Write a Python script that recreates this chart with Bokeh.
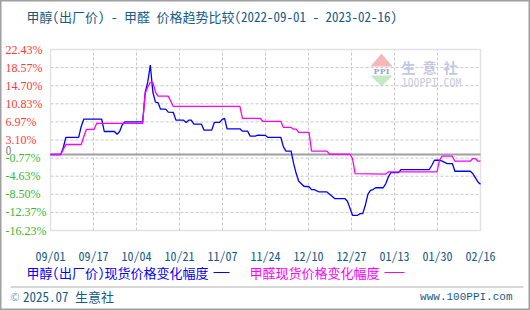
import numpy as np
import pandas as pd
from bokeh.plotting import figure
from bokeh.models import (FixedTicker, LinearAxis, Label, LabelSet, Range1d,
                          ColumnDataSource, BoxAnnotation)
from bokeh.embed import file_html
from bokeh.resources import INLINE

# ---------------- data ----------------
start_date = "2022-09-01"
end_date = "2023-02-16"

x_tick_labels = ["09/01", "09/17", "10/04", "10/21", "11/07", "11/24",
                 "12/10", "12/27", "01/13", "01/30", "02/16"]
y_tick_values = [22.43, 18.57, 14.70, 10.83, 6.97, 3.10, -0.77, -4.63,
                 -8.50, -12.37, -16.23]

methanol_dates = [
    "2022-09-01", "2022-09-05", "2022-09-06", "2022-09-07", "2022-09-12",
    "2022-09-13", "2022-09-14", "2022-09-21", "2022-09-22", "2022-09-26",
    "2022-09-27", "2022-09-28", "2022-09-29", "2022-09-30", "2022-10-07",
    "2022-10-08", "2022-10-09", "2022-10-10", "2022-10-11", "2022-10-12",
    "2022-10-13", "2022-10-14", "2022-10-16", "2022-10-17", "2022-10-19",
    "2022-10-20", "2022-10-23", "2022-10-24", "2022-10-25", "2022-10-26",
    "2022-10-27", "2022-10-30", "2022-10-31", "2022-11-03", "2022-11-04",
    "2022-11-06", "2022-11-07", "2022-11-08", "2022-11-09", "2022-11-14",
    "2022-11-15", "2022-11-17", "2022-11-18", "2022-11-20", "2022-11-21",
    "2022-11-24", "2022-11-25", "2022-11-30", "2022-12-01", "2022-12-02",
    "2022-12-04", "2022-12-05", "2022-12-06", "2022-12-07", "2022-12-09",
    "2022-12-11", "2022-12-12", "2022-12-13", "2022-12-15", "2022-12-18",
    "2022-12-20", "2022-12-21", "2022-12-25", "2022-12-26", "2022-12-28",
    "2022-12-30", "2022-12-31", "2023-01-01", "2023-01-02", "2023-01-03",
    "2023-01-04", "2023-01-05", "2023-01-06", "2023-01-09", "2023-01-10",
    "2023-01-11", "2023-01-12", "2023-01-15", "2023-01-16", "2023-01-27",
    "2023-01-28", "2023-01-29", "2023-01-31", "2023-02-01", "2023-02-03",
    "2023-02-05", "2023-02-06", "2023-02-12", "2023-02-13", "2023-02-15",
    "2023-02-16"]
methanol_change = [
    0.00, 0.00, 1.50, 3.64, 3.64,
    6.00, 7.55, 7.55, 4.92, 4.92,
    4.34, 4.90, 6.30, 6.97, 6.97,
    13.26, 15.50, 19.10, 13.30, 11.20,
    11.10, 9.69, 9.69, 9.05, 8.99,
    7.34, 7.34, 6.85, 7.34, 7.34,
    6.48, 6.48, 5.20, 5.20, 6.85,
    6.85, 7.45, 7.70, 5.48, 5.48,
    4.99, 4.99, 3.92, 3.92, 4.13,
    4.07, 3.64, 3.64, 1.63, 0.71,
    0.71, -1.93, -4.07, -5.71, -6.78,
    -6.89, -7.49, -7.49, -8.00, -8.00,
    -8.92, -9.41, -9.41, -9.99, -12.99,
    -12.99, -12.62, -12.62, -10.85, -8.50,
    -7.64, -7.49, -7.10, -7.10, -6.20,
    -4.79, -3.85, -3.85, -3.21, -3.21,
    -2.29, -1.22, -1.22, -1.43, -1.93,
    -1.93, -3.57, -3.57, -4.07, -5.86,
    -6.35]

formaldehyde_dates = [
    "2022-09-01", "2022-09-05", "2022-09-06", "2022-09-07", "2022-09-13",
    "2022-09-14", "2022-09-15", "2022-09-18", "2022-09-19", "2022-10-07",
    "2022-10-08", "2022-10-09", "2022-10-10", "2022-10-11", "2022-10-12",
    "2022-10-13", "2022-10-17", "2022-10-19", "2022-11-14", "2022-11-15",
    "2022-11-22", "2022-11-23", "2022-11-30", "2022-12-01", "2022-12-04",
    "2022-12-05", "2022-12-06", "2022-12-07", "2022-12-11", "2022-12-12",
    "2022-12-18", "2022-12-19", "2022-12-27", "2022-12-28", "2022-12-29",
    "2023-01-10", "2023-01-11", "2023-01-30", "2023-01-31", "2023-02-01",
    "2023-02-05", "2023-02-06", "2023-02-12", "2023-02-13", "2023-02-14",
    "2023-02-15", "2023-02-16"]
formaldehyde_change = [
    0.00, 0.00, 1.07, 2.14, 2.14,
    3.80, 5.35, 5.35, 6.63, 6.63,
    13.05, 14.46, 15.40, 15.40, 13.39,
    12.47, 12.47, 10.27, 10.27, 7.70,
    7.70, 7.06, 7.06, 5.78, 5.78,
    5.41, 5.41, 4.71, 4.71, 0.71,
    0.71, 0.06, 0.06, -0.86, -4.07,
    -4.17, -3.72, -3.72, -1.22, -0.36,
    -0.36, -1.43, -1.43, -0.86, -0.86,
    -1.43, -1.43]

title_text = "甲醇(出厂价) - 甲醛 价格趋势比较(2022-09-01 - 2023-02-16)"
legend_methanol = "甲醇(出厂价)现货价格变化幅度"
legend_formaldehyde = "甲醛现货价格变化幅度"

# ---------------- derived ----------------
t0 = pd.Timestamp(start_date)
span_days = (pd.Timestamp(end_date) - t0).days
m_x = [(pd.Timestamp(d) - t0).days for d in methanol_dates]
f_x = [(pd.Timestamp(d) - t0).days for d in formaldehyde_dates]
x_ticks = [span_days * i / (len(x_tick_labels) - 1) for i in range(len(x_tick_labels))]

# ---------------- layout: chart box inside the canvas ----------------
W, H = 530, 310
FL, FR, FT, FB = 50, 480, 49, 230
X0, X1 = 0, span_days
Y0, Y1 = min(y_tick_values), max(y_tick_values)


def px2x(px):
    return X0 + (px - FL) / (FR - FL) * (X1 - X0)


def py2y(py):
    return Y0 + (FB - py) / (FB - FT) * (Y1 - Y0)


MONO = "Noto Sans Mono CJK SC, Noto Sans CJK SC, DejaVu Sans Mono"
DARK = "#155b85"
GRID = "#c8c8c8"
FRAME = "#a0a0a0"

p = figure(width=W, height=H, output_backend="svg", toolbar_location=None,
           x_range=Range1d(px2x(0), px2x(W)), y_range=Range1d(py2y(H), py2y(0)),
           x_axis_location=None, y_axis_location=None,
           min_border_left=0, min_border_right=0, min_border_top=0, min_border_bottom=0)
p.background_fill_color = "white"
p.border_fill_color = "white"
p.outline_line_color = FRAME
p.outline_line_width = 2
p.xgrid.visible = False
p.ygrid.visible = False

# x axis fixed at the bottom of the chart box
xaxis = LinearAxis(fixed_location=Y0, ticker=FixedTicker(ticks=x_ticks))
xaxis.major_label_overrides = {t: lab for t, lab in zip(x_ticks, x_tick_labels)}
xaxis.axis_line_color = None
xaxis.major_tick_line_color = None
xaxis.minor_tick_line_color = None
xaxis.major_label_standoff = 10
xaxis.major_label_text_font = MONO
xaxis.major_label_text_font_size = "12px"
xaxis.major_label_text_color = DARK
p.add_layout(xaxis, "below")

# watermark
wm_x = [px2x(370), px2x(381), px2x(392)]
p.patch(wm_x, [py2y(66), py2y(53), py2y(66)], fill_color="#f4b8b8", line_color=None)
p.patch(wm_x, [py2y(75), py2y(86), py2y(75)], fill_color="#c4eac4", line_color=None)
p.add_layout(Label(x=px2x(381), y=py2y(70.5), text="PPI", text_align="center",
                   text_baseline="middle", text_font="DejaVu Serif",
                   text_font_size="8px", text_font_style="bold", text_color="#9aa6cc"))
p.add_layout(Label(x=px2x(401), y=py2y(66), text="生 意 社", text_baseline="middle",
                   text_font=MONO, text_font_size="14px", text_font_style="bold",
                   text_color="#c3c8e0"))
p.add_layout(Label(x=px2x(401), y=py2y(80.5), text="100PPI.COM", text_baseline="middle",
                   text_font=MONO, text_font_size="12px", text_color="#c8ccdc"))

# grid lines (dashed) at the tick positions
inner_x = x_ticks[1:-1]
inner_y = y_tick_values[1:-1]
p.segment(x0=inner_x, y0=[Y0] * len(inner_x), x1=inner_x, y1=[Y1] * len(inner_x),
          line_color=GRID, line_dash="3 2", line_width=1)
p.segment(x0=[X0] * len(inner_y), y0=inner_y, x1=[X1] * len(inner_y), y1=inner_y,
          line_color=GRID, line_dash="3 2", line_width=1)
# zero line
p.segment(x0=[X0], y0=[0], x1=[X1], y1=[0], line_color=FRAME, line_width=2)
# chart box
p.add_layout(BoxAnnotation(left=X0, right=X1, bottom=Y0, top=Y1, fill_alpha=0,
                           line_color=FRAME, line_width=1.5, level="underlay"))

# series
p.line(m_x, methanol_change, line_color="#0000ff", line_width=1.3)
p.line(f_x, formaldehyde_change, line_color="#ff00ff", line_width=1.3)

# y tick labels (left aligned, coloured by sign)
ysrc = ColumnDataSource(dict(
    x=[px2x(5)] * len(y_tick_values),
    y=y_tick_values,
    text=["%.2f%%" % v for v in y_tick_values],
    color=["#ff3838" if v > 0 else "#33b833" for v in y_tick_values]))
p.add_layout(LabelSet(x="x", y="y", text="text", source=ysrc, text_color="color",
                      text_align="left", text_baseline="middle",
                      text_font=MONO, text_font_size="12px"))
p.add_layout(Label(x=px2x(5), y=0, text="0", text_align="left", text_baseline="bottom",
                   text_font=MONO, text_font_size="12px", text_color="#888888"))

# title
p.add_layout(Label(x=px2x(26), y=py2y(15.5), text=title_text, text_baseline="middle",
                   text_font=MONO, text_font_size="13px", text_color=DARK))

# legend
ly = py2y(272)
p.add_layout(Label(x=px2x(26), y=py2y(271.5), text=legend_methanol, text_baseline="middle",
                   text_font=MONO, text_font_size="13px", text_color="#0000ff"))
p.segment(x0=[px2x(213)], y0=[ly], x1=[px2x(229)], y1=[ly], line_color="#0000ff", line_width=1)
p.add_layout(Label(x=px2x(249), y=py2y(271.5), text=legend_formaldehyde, text_baseline="middle",
                   text_font=MONO, text_font_size="13px", text_color="#ff00ff"))
p.segment(x0=[px2x(384)], y0=[ly], x1=[px2x(404)], y1=[ly], line_color="#ff00ff", line_width=1)

# separator and footer
sy = py2y(286.5)
p.segment(x0=[px2x(10)], y0=[sy], x1=[px2x(523)], y1=[sy], line_color="#b0b0b0", line_width=1)
p.add_layout(Label(x=px2x(10), y=py2y(295.5), text="©", text_baseline="middle",
                   text_font=MONO, text_font_size="11px", text_color="#7f9fb5"))
p.add_layout(Label(x=px2x(22.5), y=py2y(295.5), text="2025.07 生意社", text_baseline="middle",
                   text_font=MONO, text_font_size="13px", text_color=DARK))
p.add_layout(Label(x=px2x(512), y=py2y(296), text="www.100PPI.com", text_align="right",
                   text_baseline="middle", text_font="Liberation Mono",
                   text_font_size="11px", text_color=DARK))

open("out.html", "w").write(file_html(p, INLINE))
